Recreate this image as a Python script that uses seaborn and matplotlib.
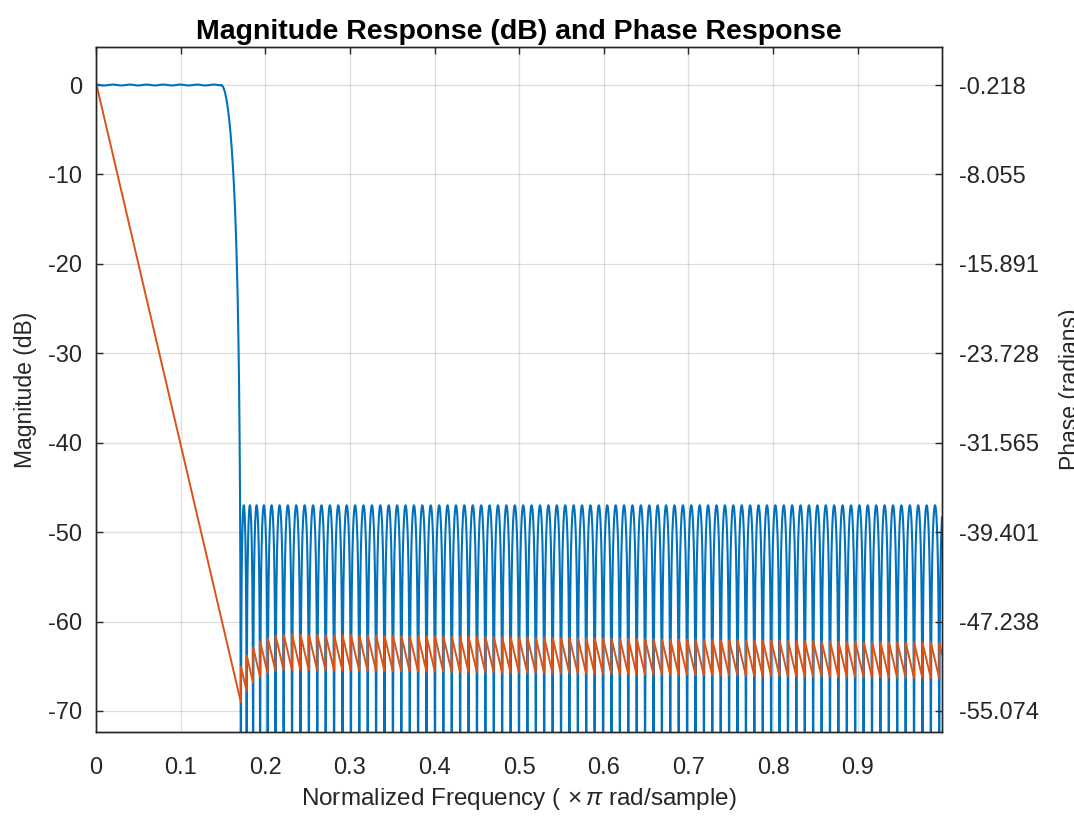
import numpy as np
import pandas as pd
import seaborn as sns
import matplotlib.pyplot as plt

# values (frequency in x pi rad/sample)
band_edges = [0.1478, 0.1712]        # end of passband, first stopband null
passband_ripple_db = 0.05            # tiny wiggle around 0 dB
stopband_peak_db = -47.0             # height of every stopband lobe
group_delay = 101                    # samples, from the slope of the phase line
lobe_width = 0.00993                 # null-to-null spacing in the stopband
edge_lobe_widths = [0.0068, 0.0076, 0.0083, 0.0089, 0.0093, 0.0096]  # narrower lobes next to the edge

freq_ticks = [0, 0.1, 0.2, 0.3, 0.4, 0.5, 0.6, 0.7, 0.8, 0.9]
mag_ticks = [0, -10, -20, -30, -40, -50, -60, -70]
phase_ticks = [-0.218, -8.055, -15.891, -23.728, -31.565, -39.401, -47.238, -55.074]
mag_limits = [-72.35, 4.25]

# frequency grid like freqz (8192 points on [0, 1))
f = np.arange(8192) / 8192
fp, fs = band_edges

# stopband nulls
widths = list(edge_lobe_widths)
while fs + sum(widths) < 1.02:
    widths.append(lobe_width)
nulls = fs + np.concatenate([[0], np.cumsum(widths)])

amp = np.zeros_like(f)
pb = f < fp
amp[pb] = 10 ** (passband_ripple_db * np.cos(np.pi * f[pb] / lobe_width) / 20)
tb = (f >= fp) & (f < fs)
amp[tb] = 0.5 * (1 + np.cos(np.pi * (f[tb] - fp) / (fs - fp)))
sb = f >= fs
k = np.searchsorted(nulls, f[sb], side='right') - 1
t = (f[sb] - nulls[k]) / (nulls[k + 1] - nulls[k])
delta = 10 ** (stopband_peak_db / 20)
amp[sb] = (-1.0) ** (k + 1) * delta * np.sin(np.pi * t)

mag_db = 20 * np.log10(np.maximum(np.abs(amp), 1e-15))
n_flips = np.zeros_like(f)
n_flips[sb] = k + 1
phase = -group_delay * np.pi * f + np.pi * n_flips

df = pd.DataFrame({'freq': f, 'mag': mag_db, 'phase': phase})

sns.set_style('white')
plt.rcParams['font.family'] = ['Liberation Sans', 'DejaVu Sans']
plt.rcParams['axes.unicode_minus'] = False
plt.rcParams['mathtext.fontset'] = 'custom'
plt.rcParams['mathtext.rm'] = 'Liberation Sans'
plt.rcParams['mathtext.it'] = 'Liberation Sans:italic'

ink = '#262626'
fig = plt.figure(figsize=(10.74, 8.17), dpi=100)
ax = fig.add_axes([96 / 1074, 1 - 732 / 817, 846 / 1074, 685 / 817])

sns.lineplot(data=df, x='freq', y='mag', ax=ax, color='#0072BD', lw=1.5,
             estimator=None, sort=False)
ax.set_xlim(0, 0.9995)
ax.set_ylim(*mag_limits)
ax.set_xticks(freq_ticks)
ax.set_xticklabels([f'{v:g}' for v in freq_ticks])
ax.set_yticks(mag_ticks)
ax.grid(True, color=ink, alpha=0.15, lw=0.9)
ax.tick_params(axis='both', direction='in', length=5, width=1, colors=ink,
               labelsize=17, top=True)
ax.tick_params(axis='x', pad=18)
ax.tick_params(axis='y', pad=10)
for s in ax.spines.values():
    s.set_color(ink)
    s.set_linewidth(1)

# phase axis, scaled so its ticks line up with the magnitude grid
scale = (phase_ticks[-1] - phase_ticks[0]) / (mag_ticks[-1] - mag_ticks[0])
ax2 = ax.twinx()
sns.lineplot(data=df, x='freq', y='phase', ax=ax2, color='#D95319', lw=1.4,
             estimator=None, sort=False)
ax2.set_ylim(phase_ticks[0] + scale * (mag_limits[0] - mag_ticks[0]),
             phase_ticks[0] + scale * (mag_limits[1] - mag_ticks[0]))
ax2.set_yticks(phase_ticks)
ax2.set_yticklabels([f'{v:.3f}' for v in phase_ticks])
ax2.tick_params(axis='y', direction='in', length=5, width=1, colors=ink,
                labelsize=17, pad=12)
ax2.set_ylabel('')
for s in ax2.spines.values():
    s.set_color(ink)
    s.set_linewidth(1)

ax.set_title('Magnitude Response (dB) and Phase Response', fontsize=20.5,
             fontweight='bold', color='black', pad=6)
ax.set_xlabel(r'Normalized Frequency ($\,\times\pi$ rad/sample)', fontsize=17.5,
              color=ink, labelpad=5)
ax.set_ylabel('Magnitude (dB)', fontsize=16.5, color=ink, labelpad=8)
# the reference shows this label running off the right edge
fig.text(1059 / 1074, 1 - 389 / 817, 'Phase (radians)', rotation=90,
         ha='left', va='center', fontsize=16.5, color=ink)

fig.savefig('out.png', dpi=100)
